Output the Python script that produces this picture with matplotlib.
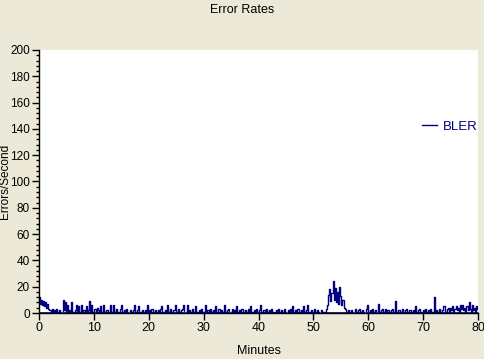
import numpy as np
import matplotlib
matplotlib.use("Agg")
import matplotlib.pyplot as plt
from matplotlib.ticker import MultipleLocator

plt.rcParams["font.family"] = ["Liberation Sans", "DejaVu Sans"]

# BLER samples every 0.2 minutes (5 per minute), 0..80 min
bler_by_minute = [
    [12, 7, 10, 6, 9], [5, 8, 4, 7, 3], [2, 1, 3, 0, 2], [0, 3, 1, 0, 2],
    [1, 0, 10, 2, 8], [1, 6, 0, 2, 1], [8, 1, 0, 2, 6], [1, 5, 0, 1, 6],
    [0, 2, 1, 5, 0], [2, 9, 1, 6, 0], [1, 3, 0, 4, 2], [0, 5, 1, 0, 6],
    [1, 0, 2, 1, 0], [6, 1, 0, 6, 1], [0, 3, 1, 0, 3], [6, 0, 1, 2, 0],
    [3, 1, 0, 2, 1], [0, 2, 6, 1, 0], [2, 5, 1, 0, 2], [1, 0, 2, 1, 6],
    [0, 2, 1, 3, 0], [1, 2, 0, 1, 2], [0, 3, 5, 1, 0], [2, 1, 6, 0, 1],
    [3, 0, 1, 2, 6], [1, 0, 3, 1, 0], [2, 3, 6, 0, 1], [6, 0, 2, 1, 0],
    [3, 1, 0, 5, 1], [0, 2, 1, 3, 0], [1, 0, 6, 1, 2], [0, 3, 1, 0, 2],
    [1, 5, 0, 1, 3], [0, 2, 1, 0, 6], [1, 0, 2, 3, 0], [1, 3, 0, 2, 1],
    [5, 0, 1, 2, 0], [3, 1, 0, 2, 1], [0, 3, 1, 5, 0], [1, 2, 0, 3, 1],
    [0, 2, 6, 1, 0], [2, 1, 3, 0, 1], [2, 0, 3, 1, 0], [1, 2, 0, 3, 1],
    [0, 2, 1, 0, 3], [1, 0, 2, 1, 3], [0, 5, 1, 0, 2], [1, 3, 0, 1, 2],
    [0, 5, 1, 0, 2], [6, 1, 0, 2, 1], [0, 3, 1, 0, 2], [1, 0, 2, 1, 0],
    [1, 0, 3, 6, 14], [18, 9, 15, 24, 10], [19, 8, 16, 7, 20], [13, 6, 10, 4, 3],
    [1, 0, 2, 1, 0], [2, 1, 0, 3, 1], [0, 2, 3, 1, 0], [2, 1, 0, 3, 6],
    [1, 0, 2, 1, 3], [0, 1, 2, 0, 7], [1, 0, 2, 3, 0], [1, 3, 0, 2, 1],
    [0, 2, 3, 1, 0], [9, 1, 0, 2, 1], [0, 3, 1, 0, 2], [3, 0, 1, 2, 0],
    [1, 2, 0, 5, 1], [0, 2, 3, 0, 1], [2, 0, 3, 1, 0], [2, 1, 3, 0, 1],
    [12, 0, 2, 1, 0], [3, 1, 0, 2, 5], [1, 0, 3, 4, 1], [4, 2, 5, 1, 3],
    [5, 2, 4, 1, 6], [3, 6, 2, 4, 1], [5, 2, 8, 3, 1], [6, 2, 4, 1, 5],
    [3],
]
bler = [v for row in bler_by_minute for v in row]
minutes = np.arange(len(bler)) * 0.2

x_ticks = [0, 10, 20, 30, 40, 50, 60, 70, 80]
y_ticks = [0, 20, 40, 60, 80, 100, 120, 140, 160, 180, 200]

BG = "#ECE9D8"
NAVY = "#000080"
FS = 9

fig = plt.figure(figsize=(4.85, 3.59), dpi=100, facecolor=BG)
ax = fig.add_axes([39/485, (359-313)/359, 439/485, 263/359])
ax.set_facecolor("white")

ax.plot(minutes, bler, color=NAVY, lw=1.0, drawstyle="steps-mid")
ax.fill_between(minutes, 0, np.minimum(bler, 1), step="mid", color=NAVY, lw=0)

ax.set_xlim(0, 80)
ax.set_ylim(0, 200)
ax.set_xticks(x_ticks)
ax.set_yticks(y_ticks)
ax.yaxis.set_minor_locator(MultipleLocator(4))
ax.tick_params(axis="both", which="major", length=5, width=1, labelsize=FS,
               direction="out", pad=1.5, color="black")
ax.tick_params(axis="y", which="major", labelsize=8.5)
ax.tick_params(axis="y", which="minor", length=2.5, width=1, color="black")
for s in ["top", "right"]:
    ax.spines[s].set_visible(False)
for s in ["left", "bottom"]:
    ax.spines[s].set_linewidth(1)
    ax.spines[s].set_color("black")

fig.text(0.5, 1 - 10/359, "Error Rates", ha="center", va="center", fontsize=FS)
ax.set_xlabel("Minutes", fontsize=FS)
ax.xaxis.set_label_coords(0.5, -(345-313)/263)
ax.set_ylabel("Errors/Second", fontsize=8.5, va="center")
ax.yaxis.set_label_coords(-(39-5)/439, 0.5)

# legend
ax.plot([], [], color=NAVY, lw=1, label="BLER")
leg = ax.legend(loc="center right", bbox_to_anchor=(1.0, 1 - (127-50)/263),
                frameon=False, fontsize=FS + 0.5, handlelength=1.1, handletextpad=0.5,
                labelcolor=NAVY, borderaxespad=0, borderpad=0)

fig.savefig("out.png", dpi=100, facecolor=BG)
